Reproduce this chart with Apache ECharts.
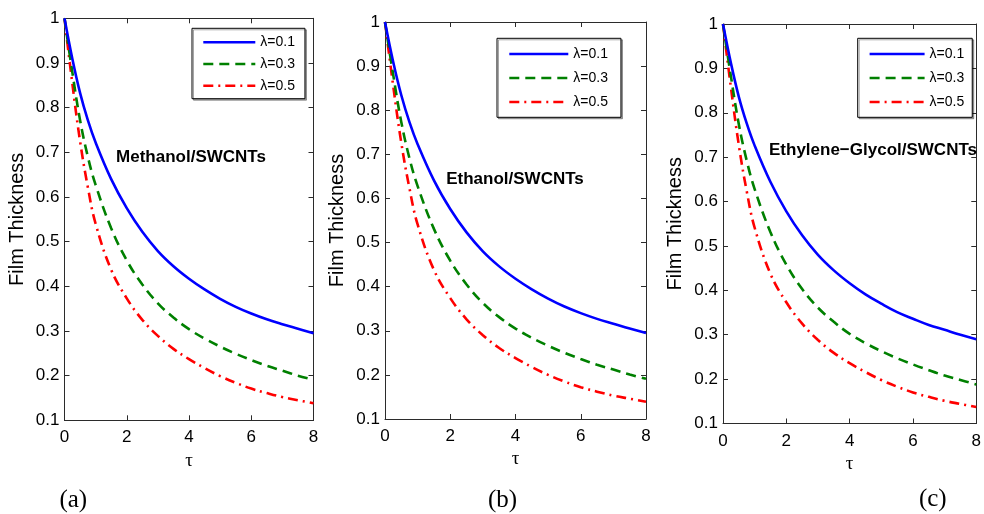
<!DOCTYPE html>
<html>
<head>
<meta charset="utf-8">
<script src="https://cdn.jsdelivr.net/npm/echarts@6/dist/echarts.min.js"></script>
<style>
html,body{margin:0;padding:0;background:#fff;}
#chart{width:984px;height:514px;}
</style>
</head>
<body>
<div id="chart"></div>
<script>
// ---- Data ----
const tau = [0, 0.25, 0.5, 0.75, 1, 1.5, 2, 2.5, 3, 3.5, 4, 4.5, 5, 5.5, 6, 6.5, 7, 7.5, 8];

const seriesNames = ['λ=0.1', 'λ=0.3', 'λ=0.5'];

// (a) Methanol/SWCNTs
const methanol_l01 = [1.0, 0.91, 0.833, 0.772, 0.722, 0.64, 0.575, 0.522, 0.479, 0.445, 0.417, 0.393, 0.372, 0.354, 0.339, 0.326, 0.315, 0.305, 0.295];
const methanol_l03 = [1.0, 0.88, 0.772, 0.69, 0.627, 0.53, 0.458, 0.404, 0.362, 0.330, 0.304, 0.283, 0.265, 0.249, 0.235, 0.222, 0.211, 0.2, 0.191];
const methanol_l05 = [1.0, 0.855, 0.725, 0.622, 0.54, 0.437, 0.373, 0.325, 0.289, 0.26, 0.237, 0.217, 0.199, 0.184, 0.171, 0.161, 0.152, 0.145, 0.138];

// (b) Ethanol/SWCNTs
const ethanol_l01 = [1.0, 0.91, 0.834, 0.773, 0.723, 0.641, 0.576, 0.523, 0.48, 0.446, 0.418, 0.394, 0.373, 0.355, 0.34, 0.327, 0.316, 0.305, 0.295];
const ethanol_l03 = [1.0, 0.881, 0.773, 0.691, 0.628, 0.531, 0.459, 0.405, 0.363, 0.331, 0.305, 0.284, 0.266, 0.25, 0.236, 0.223, 0.212, 0.201, 0.191];
const ethanol_l05 = [1.0, 0.856, 0.726, 0.623, 0.541, 0.438, 0.374, 0.326, 0.29, 0.261, 0.238, 0.218, 0.2, 0.185, 0.172, 0.162, 0.153, 0.146, 0.139];

// (c) Ethylene-Glycol/SWCNTs
const glycol_l01 = [1.0, 0.912, 0.836, 0.776, 0.726, 0.644, 0.578, 0.524, 0.48, 0.445, 0.416, 0.391, 0.37, 0.351, 0.336, 0.322, 0.311, 0.3, 0.29];
const glycol_l03 = [1.0, 0.882, 0.774, 0.692, 0.628, 0.531, 0.458, 0.403, 0.361, 0.329, 0.302, 0.281, 0.263, 0.247, 0.233, 0.22, 0.208, 0.198, 0.188];
const glycol_l05 = [1.0, 0.857, 0.727, 0.623, 0.541, 0.437, 0.373, 0.325, 0.288, 0.259, 0.236, 0.216, 0.198, 0.183, 0.17, 0.16, 0.151, 0.144, 0.137];

const xTicks = [0, 2, 4, 6, 8];
const yTicks = [0.1, 0.2, 0.3, 0.4, 0.5, 0.6, 0.7, 0.8, 0.9, 1];

const panelLabels = ['(a)', '(b)', '(c)'];
const fluidLabels = ['Methanol/SWCNTs', 'Ethanol/SWCNTs', 'Ethylene\u2212Glycol/SWCNTs'];
const xName = 'τ';
const yName = 'Film Thickness';

// ---- Build ----
const panels = [
  [methanol_l01, methanol_l03, methanol_l05],
  [ethanol_l01, ethanol_l03, ethanol_l05],
  [glycol_l01, glycol_l03, glycol_l05]
];

const grids = [
  {left: 64.5, top: 18.3, width: 249, height: 402},
  {left: 385, top: 22, width: 261, height: 397},
  {left: 723, top: 24, width: 255, height: 399.5}
];

const lineStyles = [
  {color: '#0000FF', width: 2.6, type: 'solid'},
  {color: '#008000', width: 2.6, type: [10, 6]},
  {color: '#FF0000', width: 2.6, type: [10, 5, 2, 5]}
];

const sans = '"Liberation Sans", Arial, Helvetica, sans-serif';
const serif = '"Liberation Serif", "Times New Roman", serif';
const axisColor = '#2b2b2b';

const xAxes = [], yAxes = [], series = [];
grids.forEach((g, i) => {
  xAxes.push({
    type: 'value', gridIndex: i, position: 'bottom', min: 0, max: 8, interval: 2,
    name: xName, nameLocation: 'middle', nameGap: 30,
    nameTextStyle: {fontFamily: serif, fontSize: 19, color: '#000'},
    axisLine: {show: true, onZero: false, lineStyle: {color: axisColor, width: 1}},
    axisTick: {show: true, inside: true, length: 5, lineStyle: {color: axisColor}},
    axisLabel: {margin: 9, fontFamily: sans, fontSize: 17, color: '#000',
      formatter: v => xTicks.includes(v) ? String(v) : ''},
    splitLine: {show: false}
  });
  xAxes.push({
    type: 'value', gridIndex: i, position: 'top', min: 0, max: 8, interval: 2,
    axisLine: {show: true, onZero: false, lineStyle: {color: axisColor, width: 1}},
    axisTick: {show: true, inside: true, length: 5, lineStyle: {color: axisColor}},
    axisLabel: {show: false}, splitLine: {show: false}
  });
  yAxes.push({
    type: 'value', gridIndex: i, position: 'left', min: 0.1, max: 1, interval: 0.1,
    name: yName, nameLocation: 'middle', nameGap: i === 0 ? 37 : 38,
    nameTextStyle: {fontFamily: sans, fontSize: 20, color: '#000'},
    axisLine: {show: true, onZero: false, lineStyle: {color: axisColor, width: 1}},
    axisTick: {show: true, inside: true, length: 5, lineStyle: {color: axisColor}},
    axisLabel: {margin: 5, fontFamily: sans, fontSize: 17, color: '#000',
      formatter: v => { const r = Math.round(v * 10) / 10; return yTicks.includes(r) ? String(r) : ''; }},
    splitLine: {show: false}
  });
  yAxes.push({
    type: 'value', gridIndex: i, position: 'right', min: 0.1, max: 1, interval: 0.1,
    axisLine: {show: true, onZero: false, lineStyle: {color: axisColor, width: 1}},
    axisTick: {show: true, inside: true, length: 5, lineStyle: {color: axisColor}},
    axisLabel: {show: false}, splitLine: {show: false}
  });
  panels[i].forEach((vals, k) => {
    series.push({
      type: 'line', name: seriesNames[k],
      xAxisIndex: 2 * i, yAxisIndex: 2 * i,
      data: tau.map((t, j) => [t, vals[j]]),
      smooth: 0.4,
      symbol: 'none', showSymbol: false,
      lineStyle: lineStyles[k],
      itemStyle: {color: lineStyles[k].color},
      z: 5 - k
    });
  });
});

const legendBase = {
  orient: 'vertical', data: seriesNames,
  backgroundColor: '#fff', borderColor: '#000', borderWidth: 1,
  shadowColor: 'rgba(0,0,0,0.35)', shadowBlur: 0, shadowOffsetX: 1.5, shadowOffsetY: 1.5,
  itemHeight: 14,
  itemStyle: {color: 'rgba(0,0,0,0)', borderColor: 'rgba(0,0,0,0)', borderWidth: 0, opacity: 0},
  lineStyle: {width: 2.6},
  textStyle: {fontFamily: sans, fontSize: 14, color: '#000'},
  selectedMode: false
};
const legends = [
  Object.assign({}, legendBase, {left: 192, top: 28.3, padding: [7, 10, 6, 10], itemWidth: 52, itemGap: 7.7}),
  Object.assign({}, legendBase, {left: 497, top: 38.3, padding: [8.7, 13, 8.3, 11], itemWidth: 59, itemGap: 10}),
  Object.assign({}, legendBase, {left: 857.7, top: 38.3, padding: [8.7, 8, 8.3, 10.6], itemWidth: 55, itemGap: 10})
];

const annPos = [[191, 157], [515, 179.3], [873, 150]];
const tagPos = [[73.3, 500.7], [502.5, 500], [932.8, 499]];
const graphics = [];
annPos.forEach((p, i) => {
  graphics.push({
    type: 'text', x: p[0], y: p[1], z: 10,
    style: {text: fluidLabels[i], font: 'bold 17px ' + sans, fill: '#000', align: 'center', verticalAlign: 'middle'}
  });
});
tagPos.forEach((p, i) => {
  graphics.push({
    type: 'text', x: p[0], y: p[1], z: 10,
    style: {text: panelLabels[i], font: '25px ' + serif, fill: '#000', align: 'center', verticalAlign: 'middle'}
  });
});

const chart = echarts.init(document.getElementById('chart'), null, {renderer: 'canvas'});
chart.setOption({
  backgroundColor: '#fff',
  animation: false,
  grid: grids.map(g => Object.assign({containLabel: false}, g)),
  xAxis: xAxes,
  yAxis: yAxes,
  legend: legends,
  series: series,
  graphic: graphics
});
</script>
</body>
</html>
